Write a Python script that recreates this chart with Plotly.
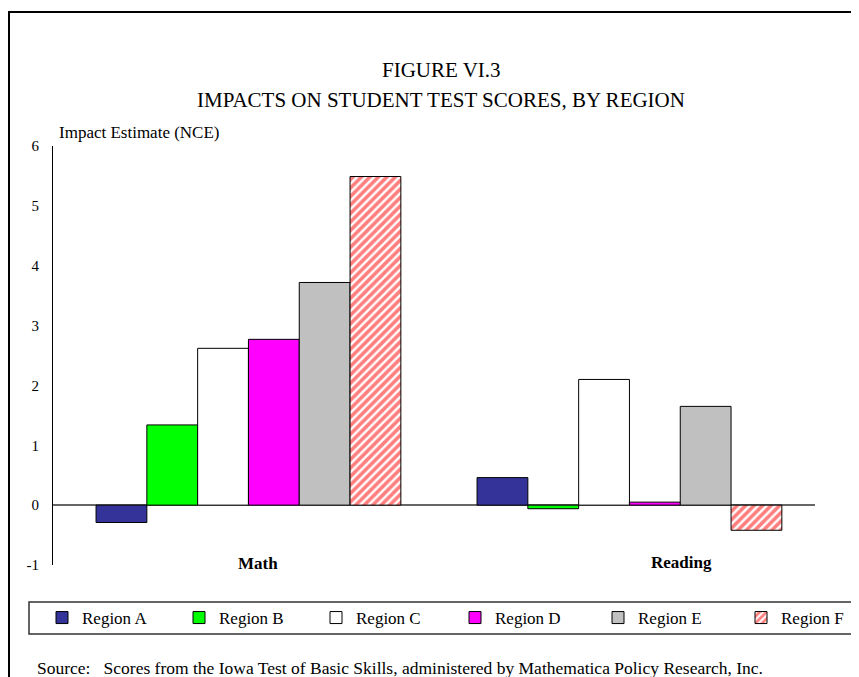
import plotly.graph_objects as go

categories = ['Math', 'Reading']
regions = ['Region A', 'Region B', 'Region C', 'Region D', 'Region E', 'Region F']
impacts = {
    'Region A': [-0.29, 0.46],
    'Region B': [1.34, -0.06],
    'Region C': [2.62, 2.10],
    'Region D': [2.77, 0.05],
    'Region E': [3.72, 1.65],
    'Region F': [5.49, -0.42],
}
colors = ['#333399', '#00FF00', '#FFFFFF', '#FF00FF', '#C0C0C0', '#FFFFFF']
y_ticks = [-1, 0, 1, 2, 3, 4, 5, 6]
y_ticktext = ['-1', '0', '1', '2', '3', '4', '5', '6']

FONT = 'Liberation Serif, Times New Roman, serif'

# plot area in screen pixels (page has an 8px body margin)
L, R, T, B = 53, 815, 146, 565
W, H = R - L, B - T


def px(x):
    return (x - L) / W


def py(y):
    return (B - y) / H


fig = go.Figure()
for i, (name, color) in enumerate(zip(regions, colors)):
    marker = dict(color=color, line=dict(color='black', width=1))
    if name == 'Region F':
        marker['pattern'] = dict(shape='/', fgcolor='#FF0000', bgcolor='white',
                                 size=6, solidity=0.6)
    # legend split in two so the entries can keep the wide spacing
    fig.add_trace(go.Bar(x=categories, y=impacts[name], name=name, marker=marker,
                         legend='legend' if i < 3 else 'legend2'))

legend_common = dict(orientation='h', yanchor='middle', y=py(618), xanchor='left',
                     bgcolor='rgba(0,0,0,0)', borderwidth=0, entrywidthmode='pixels',
                     font=dict(family=FONT, size=17))

fig.update_layout(
    width=851, height=669,
    margin=dict(l=L - 8, r=859 - R, t=T - 8, b=677 - B, autoexpand=False),
    barmode='group', bargap=0.2, bargroupgap=0,
    plot_bgcolor='white', paper_bgcolor='white',
    font=dict(family=FONT, size=15, color='black'),
    showlegend=True,
    legend=dict(legend_common, x=px(42), entrywidth=92),
    legend2=dict(legend_common, x=px(455), entrywidth=98),
)
fig.update_xaxes(range=[-0.513, 1.487], showline=False, showticklabels=False,
                 showgrid=False, zeroline=False)
fig.update_yaxes(range=[-1, 6], tickvals=y_ticks, ticktext=y_ticktext,
                 showgrid=False, showline=True,
                 linecolor='black', linewidth=1, zeroline=True,
                 zerolinecolor='#666666', zerolinewidth=1.5,
                 ticks='', ticklabelstandoff=10,
                 tickfont=dict(family=FONT, size=15))


def note(x, y, text, size, xanchor='center'):
    fig.add_annotation(x=px(x), y=py(y), xref='paper', yref='paper', text=text,
                       xanchor=xanchor, yanchor='middle', showarrow=False,
                       font=dict(family=FONT, size=size))


# category labels sit inside the plot near the bottom
note(258, 563, '<b>Math</b>', 17)
note(681, 562, '<b>Reading</b>', 17)

note(441, 70, 'FIGURE VI.3', 21)
note(441, 100, 'IMPACTS ON STUDENT TEST SCORES, BY REGION', 21)
note(57, 133, 'Impact Estimate (NCE)', 17, 'left')
note(35, 668, 'Source:&nbsp;&nbsp;&nbsp;Scores from the Iowa Test of Basic Skills, '
              'administered by Mathematica Policy Research, Inc.', 17.5, 'left')

# outer frame and legend box
fig.add_shape(type='rect', xref='paper', yref='paper', x0=px(9), x1=px(900),
              y0=py(720), y1=py(12), line=dict(color='black', width=2))
fig.add_shape(type='rect', xref='paper', yref='paper', x0=px(29), x1=px(880),
              y0=py(634), y1=py(602), line=dict(color='#333333', width=1.5))

fig.write_html('out.html')
